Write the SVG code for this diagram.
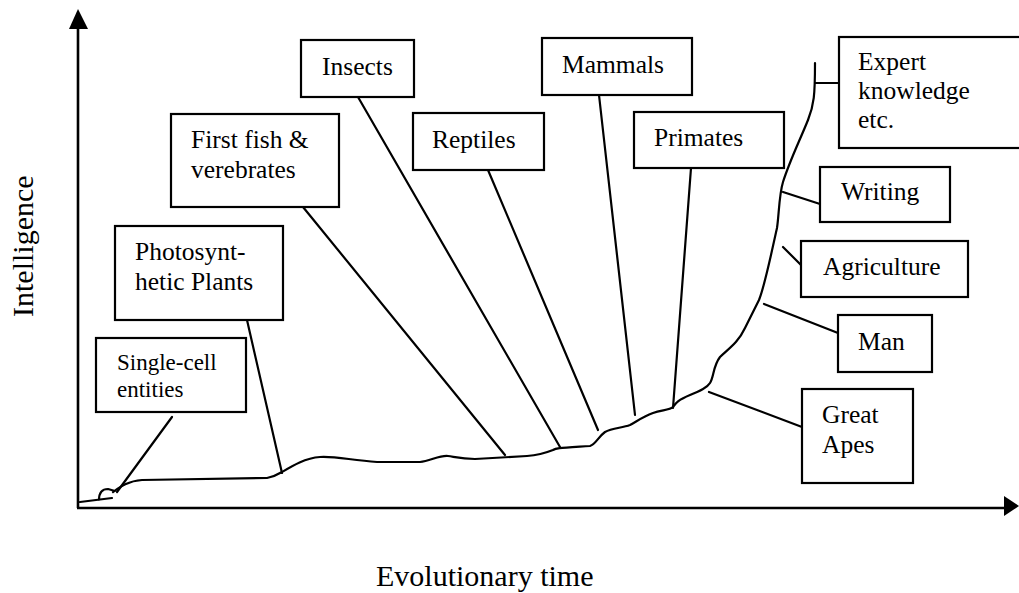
<svg xmlns="http://www.w3.org/2000/svg" width="1019" height="593" viewBox="0 0 1019 593">
<style>
.box{fill:#fff;stroke:#000;stroke-width:2.2}
text{font-family:'Liberation Serif','Times New Roman',Times,'DejaVu Serif',serif;fill:#000}
.lbl{font-size:25.5px}
.sm{font-size:23px}
.ax{font-size:30px}
.ln{fill:none;stroke:#000;stroke-width:2.2;stroke-linecap:round;stroke-linejoin:round}
.axis{fill:none;stroke:#000;stroke-width:2.6}
</style>
<rect width="1019" height="593" fill="#fff"/>
<g id="axes">
<line class="axis" x1="78" y1="508" x2="78" y2="26"/>
<polygon points="78,9 69,29 88,29" fill="#000"/>
<line class="axis" x1="77" y1="508" x2="1006" y2="508"/>
<polygon points="1019,506 1004,496 1004,516" fill="#000"/>
<text class="ax" x="376" y="586" font-family="Liberation Serif, serif">Evolutionary time</text>
<text class="ax" transform="translate(33,317) rotate(-90)" font-family="Liberation Serif, serif">Intelligence</text>
</g>
<g id="curve">
<path class="ln" d="M80,502 L112,498 M99,500 C99,493 102,489 108,489 L115,491 M113,492 C120,487 128,481 142,480 L267,478 C272,477 277,475 282,472 C292,466 305,458 320,457 C335,456 350,460 377,462 L420,462 C430,461 440,455 448,456 C455,457 462,459 475,459 L527,456 C540,455 548,452 553,450 C556,448 560,448 590,446 C596,444 598,437 605,432 C612,428 622,428 630,425 C636,422 642,417 653,413 C662,410 670,410 673,407 C676,403 678,400 690,395 C700,391 707,388 710,383 C714,377 713,366 720,357 C728,349 738,343 745,328 C750,318 755,308 759,300 C765,285 772,250 777,228 C779,215 779,195 783,182 C790,160 800,140 808,120 C814,105 815,95 815,63"/>
</g>
<g id="connectors">
<line class="ln" x1="172" y1="417" x2="117" y2="492"/>
<line class="ln" x1="247" y1="320" x2="282" y2="473"/>
<line class="ln" x1="303" y1="207" x2="505" y2="455"/>
<line class="ln" x1="358" y1="97" x2="560" y2="447"/>
<line class="ln" x1="488" y1="170" x2="598" y2="430"/>
<line class="ln" x1="599" y1="95" x2="635" y2="415"/>
<line class="ln" x1="691" y1="168" x2="673" y2="408"/>
<line class="ln" x1="815" y1="83" x2="839" y2="83"/>
<line class="ln" x1="783" y1="192" x2="820" y2="204"/>
<line class="ln" x1="783" y1="247" x2="801" y2="265"/>
<line class="ln" x1="764" y1="304" x2="838" y2="333"/>
<line class="ln" x1="709" y1="392" x2="802" y2="427"/>
</g>
<g id="single-cell">
<rect class="box" x="96" y="338" width="150" height="74"/>
<text class="lbl sm" x="117" y="370">Single-cell</text>
<text class="lbl sm" x="117" y="397">entities</text>
</g>
<g id="photosynthetic">
<rect class="box" x="115" y="226" width="168" height="94"/>
<text class="lbl" x="135" y="260">Photosynt-</text>
<text class="lbl" x="135" y="290">hetic Plants</text>
</g>
<g id="first-fish">
<rect class="box" x="171" y="114" width="168" height="93"/>
<text class="lbl" x="191" y="148">First fish &amp;</text>
<text class="lbl" x="191" y="178">verebrates</text>
</g>
<g id="insects">
<rect class="box" x="301" y="40" width="113" height="57"/>
<text class="lbl" x="322" y="75">Insects</text>
</g>
<g id="reptiles">
<rect class="box" x="413" y="113" width="131" height="57"/>
<text class="lbl" x="432" y="148">Reptiles</text>
</g>
<g id="mammals">
<rect class="box" x="542" y="38" width="150" height="57"/>
<text class="lbl" x="562" y="73">Mammals</text>
</g>
<g id="primates">
<rect class="box" x="634" y="112" width="150" height="56"/>
<text class="lbl" x="654" y="146">Primates</text>
</g>
<g id="expert">
<rect class="box" x="839" y="37" width="195" height="111"/>
<text class="lbl" x="858" y="70">Expert</text>
<text class="lbl" x="858" y="99">knowledge</text>
<text class="lbl" x="858" y="128">etc.</text>
</g>
<g id="writing">
<rect class="box" x="820" y="167" width="130" height="55"/>
<text class="lbl" x="841" y="200">Writing</text>
</g>
<g id="agriculture">
<rect class="box" x="801" y="241" width="167" height="56"/>
<text class="lbl" x="823" y="275">Agriculture</text>
</g>
<g id="man">
<rect class="box" x="838" y="315" width="94" height="57"/>
<text class="lbl" x="858" y="350">Man</text>
</g>
<g id="great-apes">
<rect class="box" x="802" y="389" width="111" height="94"/>
<text class="lbl" x="822" y="423">Great</text>
<text class="lbl" x="822" y="453">Apes</text>
</g>
</svg>
